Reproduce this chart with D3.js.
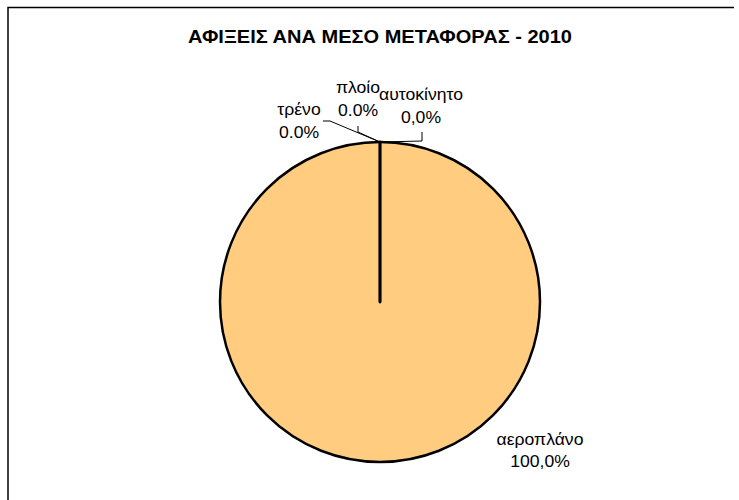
<!DOCTYPE html>
<html><head><meta charset="utf-8">
<script src="https://cdn.jsdelivr.net/npm/d3@7"></script>
<style>body{margin:0;background:#fff}svg{display:block}text{font-family:"Liberation Sans",Arial,sans-serif}</style>
</head><body><svg id="c" width="739" height="500"></svg>
<script>
const title = "ΑΦΙΞΕΙΣ ΑΝΑ ΜΕΣΟ ΜΕΤΑΦΟΡΑΣ - 2010";
const categories = ["αεροπλάνο", "τρένο", "πλοίο", "αυτοκίνητο"];
const values = [100, 0, 0, 0];
const percentLabels = ["100,0%", "0.0%", "0.0%", "0,0%"];

(function () {
const svg = d3.select("#c");
svg.append("path").attr("d", "M8,510 L8,7.5 L734,7.5")
  .attr("fill", "none").attr("stroke", "#000").attr("stroke-width", 1.5);

svg.append("text").attr("x", 380).attr("y", 43).attr("text-anchor", "middle")
  .attr("font-weight", "bold").attr("font-size", 17.5)
  .attr("textLength", 384).attr("lengthAdjust", "spacingAndGlyphs").text(title);

const cx = 380, cy = 302, R = 160;
const g = svg.append("g").attr("transform", `translate(${cx},${cy})`);
const pie = d3.pie().sort(null).value(d => d)(values);
const arc = d3.arc().innerRadius(0).outerRadius(R);
g.selectAll("path").data(pie).enter().append("path")
  .attr("d", arc).attr("fill", "#FFCC80").attr("stroke", "#000").attr("stroke-width", 2.5)
  .attr("stroke-linejoin", "round");

const apex = [0, -R];
const layout = [
  {x: 160, y: 143, lines: null},
  {x: -81, y: -187, lines: [[-57, -181], [-50, -181], apex]},
  {x: -22, y: -209, lines: [[-22, -176], [-22, -170], apex]},
  {x: 41, y: -202, lines: [[42, -170], [42, -161], apex]}
];
pie.forEach((p, i) => {
  const L = layout[i];
  if (L.lines) {
    g.append("path").attr("d", d3.line()(L.lines)).attr("fill", "none")
      .attr("stroke", "#000").attr("stroke-width", 1);
  }
  const t = g.append("text").attr("text-anchor", "middle").attr("font-size", 16).attr("fill", "#000")
    .attr("transform", `translate(${L.x},0) scale(1.1,1) translate(${-L.x},0)`);
  t.append("tspan").attr("x", L.x).attr("y", L.y).text(categories[i]);
  t.append("tspan").attr("x", L.x).attr("y", L.y + 22.5).text(percentLabels[i]);
});
})();
</script></body></html>
